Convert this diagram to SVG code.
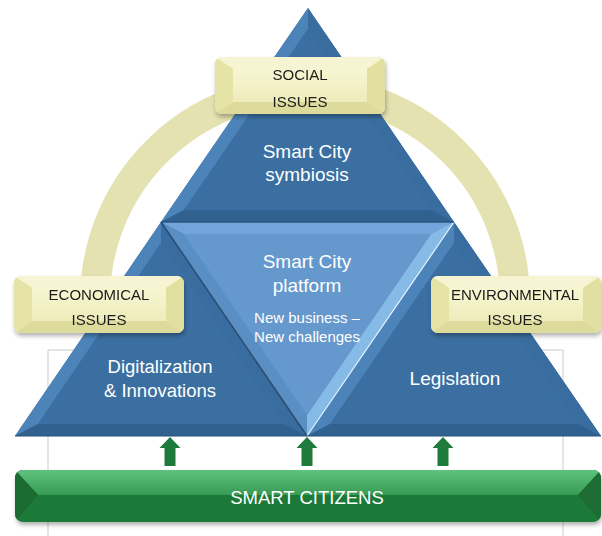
<svg xmlns="http://www.w3.org/2000/svg" width="602" height="536" viewBox="0 0 602 536">
<style>
.lbl{font-family:"Liberation Sans",Arial,sans-serif;fill:#ffffff;text-anchor:middle}
.blbl{font-family:"Liberation Sans",Arial,sans-serif;fill:#1a1a1a;text-anchor:middle;font-size:15px}
.face{fill:#3b6fa1}
.fl{fill:#4c83b9}
.fr{fill:#3a6d9f}
.fb{fill:#31628f}
.arrow{fill:#1f7b3b}
</style>
<defs>
<filter id="sh" x="-10%" y="-20%" width="120%" height="160%">
<feDropShadow dx="1" dy="3" stdDeviation="2" flood-color="#000" flood-opacity="0.3"/>
</filter>
<linearGradient id="yFace" x1="0" y1="0" x2="0" y2="1">
<stop offset="0" stop-color="#f8f6d2"/>
<stop offset="1" stop-color="#eeecba"/>
</linearGradient>
<linearGradient id="gTop" x1="0" y1="0" x2="0" y2="1">
<stop offset="0" stop-color="#5ec27e"/>
<stop offset="1" stop-color="#389a55"/>
</linearGradient>
<clipPath id="yClip"><rect x="0" y="0" width="170" height="57" rx="7"/></clipPath>
<clipPath id="gClip"><rect x="15" y="470" width="586" height="52" rx="8"/></clipPath>
<g id="ybox">
<rect x="0" y="0" width="170" height="57" rx="7" fill="#e8e6aa"/>
<g clip-path="url(#yClip)">
<polygon points="0,0 170,0 152,12 18,12" fill="#f6f4d2"/>
<polygon points="0,57 170,57 152,45 18,45" fill="#dddb9c"/>
<polygon points="0,0 18,12 18,45 0,57" fill="#e5e3a5"/>
<polygon points="170,0 152,12 152,45 170,57" fill="#e2e0a1"/>
<rect x="18" y="12" width="134" height="33" fill="url(#yFace)"/>
</g>
</g>
</defs>
<rect x="0" y="0" width="602" height="536" fill="#ffffff"/>
<rect x="48" y="350" width="515" height="200" fill="none" stroke="#cccccc" stroke-width="1"/>
<path d="M 95 300 A 210 210 0 0 1 515 300" fill="none" stroke="#e4e2b1" stroke-width="30"/>

<g id="top-triangle">
<polygon points="308,8 161,222 454,222" class="face"/>
<polygon points="308,8 161,222 184,210 308,29" class="fl"/>
<polygon points="308,8 454,222 431,210 308,29" class="fr"/>
<polygon points="161,222 454,222 431,210 184,210" class="fb"/>
<polygon points="308,29 184,210 431,210" class="face"/>
<text class="lbl" x="307" y="158" font-size="19">Smart City</text>
<text class="lbl" x="307" y="181" font-size="19">symbiosis</text>
</g>

<g id="left-triangle">
<polygon points="161,222 15,436 307,436" class="face"/>
<polygon points="161,222 15,436 38,424 161,243" class="fl"/>
<polygon points="161,222 307,436 284,424 161,243" class="fr"/>
<polygon points="15,436 307,436 284,424 38,424" class="fb"/>
<polygon points="161,243 38,424 284,424" class="face"/>
<text class="lbl" x="160" y="373" font-size="18.5">Digitalization</text>
<text class="lbl" x="160" y="397" font-size="18.5">&amp; Innovations</text>
</g>

<g id="right-triangle">
<polygon points="454,222 307,436 601,436" class="face"/>
<polygon points="454,222 307,436 330,424 454,243" class="fl"/>
<polygon points="454,222 601,436 578,424 454,243" class="fr"/>
<polygon points="307,436 601,436 578,424 330,424" class="fb"/>
<polygon points="454,243 330,424 578,424" class="face"/>
<text class="lbl" x="455" y="385" font-size="19">Legislation</text>
</g>

<g id="middle-triangle">
<polygon points="161,222 454,222 307,436" fill="#6598cc"/>
<polygon points="161,222 454,222 431,234 184,234" fill="#72a6da"/>
<polygon points="161,222 307,436 307,415 184,234" fill="#5a8fc3"/>
<polygon points="454,222 307,436 307,415 431,234" fill="#86bbe8"/>
<polygon points="184,234 431,234 307,415" fill="#6598cc"/>
<line x1="161" y1="222" x2="307" y2="436" stroke="#2a4c70" stroke-width="1.5"/>
<line x1="454" y1="222" x2="307" y2="436" stroke="#e8f4ff" stroke-width="1.2"/>
<line x1="161" y1="222" x2="454" y2="222" stroke="#2b5683" stroke-width="1.5"/>
<text class="lbl" x="307" y="268" font-size="19">Smart City</text>
<text class="lbl" x="307" y="292" font-size="19">platform</text>
<text class="lbl" x="307" y="323" font-size="15">New business –</text>
<text class="lbl" x="307" y="342" font-size="15">New challenges</text>
</g>
<line x1="15" y1="436" x2="601" y2="436" stroke="#24507c" stroke-width="1.2"/>

<g id="social-issues" filter="url(#sh)">
<use href="#ybox" x="215" y="57"/>
<text class="blbl" x="300" y="80">SOCIAL</text>
<text class="blbl" x="300" y="107">ISSUES</text>
</g>
<g id="economical-issues" filter="url(#sh)">
<use href="#ybox" x="14" y="276"/>
<text class="blbl" x="99" y="300">ECONOMICAL</text>
<text class="blbl" x="99" y="325">ISSUES</text>
</g>
<g id="environmental-issues" filter="url(#sh)">
<use href="#ybox" x="431" y="276"/>
<text class="blbl" x="515" y="300">ENVIRONMENTAL</text>
<text class="blbl" x="515" y="325">ISSUES</text>
</g>

<g id="connectors">
<polygon class="arrow" points="170,437 180.5,448 175.5,448 175.5,466 164.5,466 164.5,448 159.5,448"/>
<polygon class="arrow" points="307,437 317.5,448 312.5,448 312.5,466 301.5,466 301.5,448 296.5,448"/>
<polygon class="arrow" points="443,437 453.5,448 448.5,448 448.5,466 437.5,466 437.5,448 432.5,448"/>
</g>

<g id="smart-citizens">
<rect x="15" y="470" width="586" height="52" rx="8" fill="#1f7a38" filter="url(#sh)"/>
<g clip-path="url(#gClip)">
<polygon points="15,470 601,470 578,495 38,495" fill="url(#gTop)"/>
<polygon points="15,470 38,495 15,522" fill="#1c6b32"/>
<polygon points="601,470 578,495 601,522" fill="#1c6c33"/>
</g>
<text class="lbl" x="307" y="504" font-size="18.5">SMART CITIZENS</text>
</g>
</svg>
